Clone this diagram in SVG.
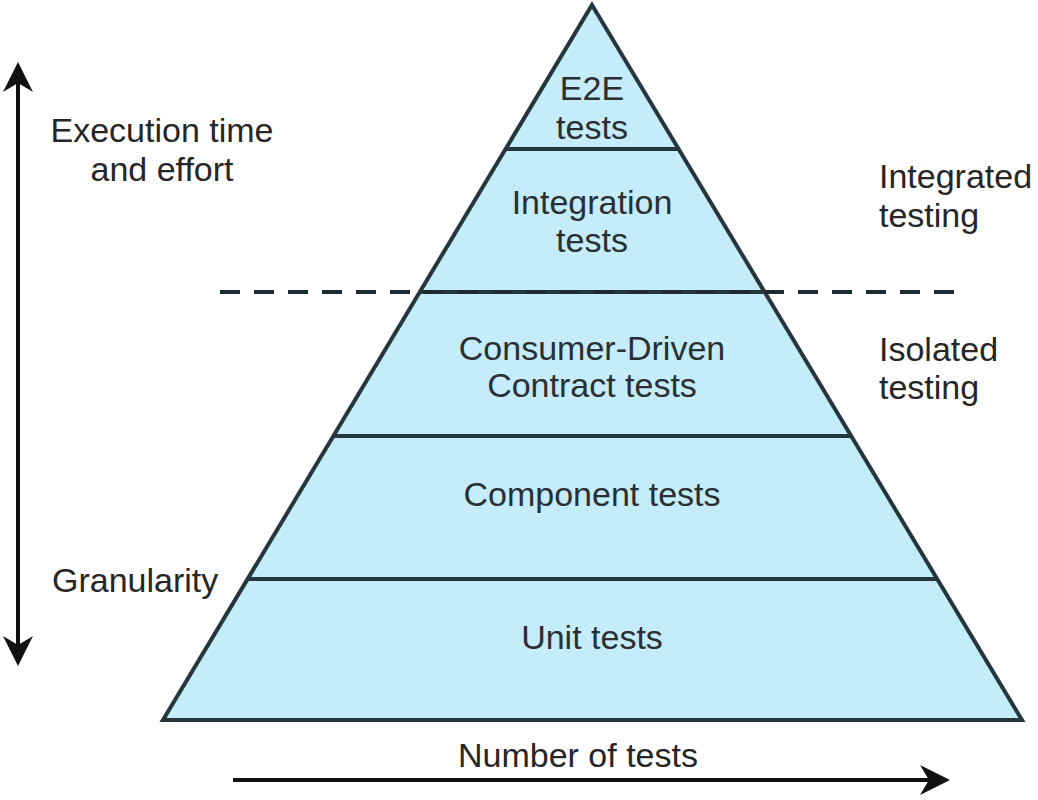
<svg xmlns="http://www.w3.org/2000/svg" width="1038" height="800" viewBox="0 0 1038 800">
<defs>
<style>
.lbl{font-family:"Liberation Sans",Arial,sans-serif;font-size:34px;fill:#262626}
.ptxt{font-family:"Liberation Sans",Arial,sans-serif;font-size:34px;fill:#2a2f33;text-anchor:middle}
.tier{fill:#c5ecfa;stroke:#26363d;stroke-width:4;stroke-linejoin:miter}
.div{stroke:#26363d;stroke-width:4}
.axis{stroke:#111;stroke-width:4;fill:none}
</style>
<marker id="ah2" viewBox="0 0 10 10" refX="8" refY="5" markerWidth="7.5" markerHeight="7.5" orient="auto-start-reverse">
<path d="M0,0 L10,5 L0,10 L3,5 Z" fill="#111"/>
</marker>
</defs>
<rect width="1038" height="800" fill="#ffffff"/>
<g id="pyramid">
<polygon class="tier" points="592,5 1022,720 163,720"/>
</g>
<g id="e2e">
<text class="ptxt" x="592" y="100">E2E</text>
<text class="ptxt" x="592" y="139">tests</text>
</g>
<g id="integration">
<line class="div" x1="505" y1="149" x2="679" y2="149"/>
<text class="ptxt" x="592" y="214">Integration</text>
<text class="ptxt" x="592" y="252">tests</text>
</g>
<g id="contract">
<line class="div" x1="419" y1="292" x2="765" y2="292"/>
<text class="ptxt" x="592" y="360">Consumer-Driven</text>
<text class="ptxt" x="592" y="397">Contract tests</text>
</g>
<g id="component">
<line class="div" x1="333" y1="436" x2="851" y2="436"/>
<text class="ptxt" x="592" y="506">Component tests</text>
</g>
<g id="unit">
<line class="div" x1="247" y1="579" x2="937" y2="579"/>
<text class="ptxt" x="592" y="649">Unit tests</text>
</g>
<g id="connectors">
<line x1="220" y1="292" x2="961" y2="292" stroke="#1e2a30" stroke-width="4" stroke-dasharray="20 14"/>
<line class="axis" x1="18" y1="68" x2="18" y2="660" marker-start="url(#ah2)" marker-end="url(#ah2)"/>
<line class="axis" x1="233" y1="780" x2="944" y2="780" marker-end="url(#ah2)"/>
</g>
<g id="labels">
<text class="lbl" x="162" y="142" text-anchor="middle">Execution time</text>
<text class="lbl" x="162" y="181" text-anchor="middle">and effort</text>
<text class="lbl" x="879" y="188">Integrated</text>
<text class="lbl" x="879" y="227">testing</text>
<text class="lbl" x="879" y="361">Isolated</text>
<text class="lbl" x="879" y="399">testing</text>
<text class="lbl" x="52" y="592">Granularity</text>
<text class="lbl" x="578" y="767" text-anchor="middle">Number of tests</text>
</g>
</svg>
